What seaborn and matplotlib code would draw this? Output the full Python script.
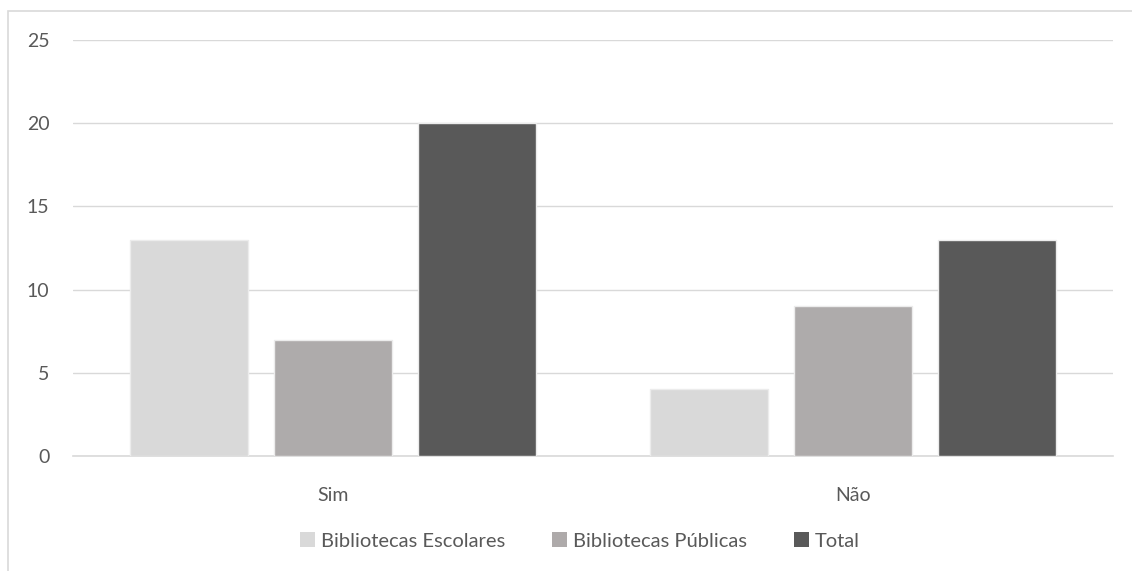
import matplotlib
matplotlib.use("Agg")
import matplotlib.pyplot as plt
import seaborn as sns
import pandas as pd
from matplotlib.patches import Rectangle, Patch

categories = ["Sim", "Não"]
series = ["Bibliotecas Escolares", "Bibliotecas Públicas", "Total"]
escolares = [13, 4]
publicas = [7, 9]
total = [20, 13]
yticks = [0, 5, 10, 15, 20, 25]
colors = ["#d9d9d9", "#aeaaaa", "#595959"]

rows = []
for i, c in enumerate(categories):
    for s, vals in zip(series, [escolares, publicas, total]):
        rows.append({"cat": c, "serie": s, "valor": vals[i]})
df = pd.DataFrame(rows)

sns.set_theme(style="white")
plt.rcParams["font.family"] = ["Lato", "DejaVu Sans"]
text_color = "#595959"

fig = plt.figure(figsize=(11.32, 5.71), dpi=100)
fig.patches.append(Rectangle((8 / 1132, -0.1), 1.2, 1.1 - 11 / 571 + 0.0,
                             transform=fig.transFigure, fill=False,
                             edgecolor="#d9d9d9", linewidth=1.2))
ax = fig.add_axes([73 / 1132, 115 / 571, 1040 / 1132, 416 / 571])

sns.barplot(data=df, x="cat", y="valor", hue="serie", palette=colors,
            width=0.83, gap=0.18, ax=ax, legend=False, errorbar=None,
            edgecolor="#ececec", linewidth=1.0, zorder=3)

ax.set_ylim(0, 25)
ax.set_xlim(-0.5, 1.5)
ax.set_yticks(yticks)
ax.set_yticklabels([str(v) for v in yticks])
ax.yaxis.grid(True, color="#d9d9d9", linewidth=1.0, zorder=0)
ax.set_axisbelow(True)
for s in ["top", "right", "left"]:
    ax.spines[s].set_visible(False)
ax.spines["bottom"].set_color("#d9d9d9")
ax.spines["bottom"].set_linewidth(1.2)
ax.tick_params(axis="x", length=0, pad=22, labelsize=14, labelcolor=text_color)
ax.tick_params(axis="y", length=0, pad=17, labelsize=14, labelcolor=text_color)
ax.set_xlabel("")
ax.set_ylabel("")

handles = [Patch(facecolor=c, edgecolor="none") for c in colors]
fig.legend(handles, series, loc="center", bbox_to_anchor=(580 / 1132, 1 - 541 / 571),
           ncol=3, frameon=False, fontsize=14.5, labelcolor=text_color,
           handlelength=0.75, handleheight=0.75, handletextpad=0.3, columnspacing=2.3)

fig.savefig("out.png", dpi=100)
